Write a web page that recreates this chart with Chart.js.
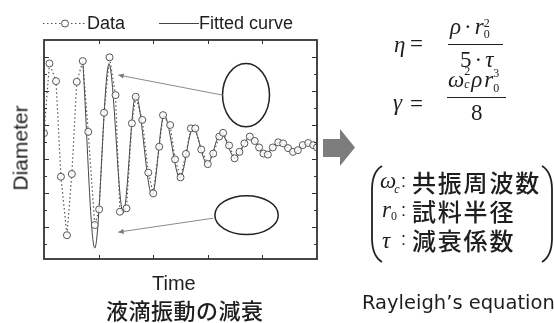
<!DOCTYPE html>
<html>
<head>
<meta charset="utf-8">
<script src="https://cdn.jsdelivr.net/npm/chart.js@4/dist/chart.umd.min.js"></script>
<style>
  html, body { margin: 0; padding: 0; background: #fff; }
  #wrap { position: relative; width: 554px; height: 323px; overflow: hidden; background: #fff; }
  #c { position: absolute; left: 0; top: 0; }
  .t { position: absolute; white-space: nowrap; color: #1e1e1e; line-height: 1; }
  .sans { font-family: "Liberation Sans", Arial, sans-serif; }
  .jp { font-family: "Noto Sans CJK JP", sans-serif; font-weight: 500; }
  .math { font-family: "Liberation Serif", "Times New Roman", serif; font-style: italic; font-size: 23px; }
  .up { font-style: normal; }
  .dot { font-style: normal; margin: 0 3px; }
  .ss { display: inline-block; position: relative; width: 6px; height: 1px; }
  .ss span { position: absolute; left: 0; font-size: 12px; line-height: 1; font-style: normal; }
  .ss span.it { font-style: italic; }
  .bar { position: absolute; height: 0; border-top: 1.2px solid #1e1e1e; }
</style>
</head>
<body>
<div id="wrap">
  <canvas id="c" width="554" height="323"></canvas>

  <!-- legend labels -->
  <div class="t sans" style="left:87px;top:14px;font-size:18px;">Data</div>
  <div class="t sans" style="left:199px;top:14px;font-size:18px;">Fitted curve</div>

  <!-- axis titles -->
  <div class="t sans" style="left:152px;top:273px;font-size:20px;">Time</div>
  <div class="t sans" style="left:20px;top:148px;font-size:21px;transform:translate(-50%,-50%) rotate(-90deg);">Diameter</div>

  <!-- caption -->
  <div class="t jp" style="left:106px;top:298px;font-size:22px;letter-spacing:0.5px;">液滴振動の減衰</div>

  <!-- viscosity -->
  <div class="t math" style="left:394px;top:33px;">η</div>
  <div class="t math up" style="left:410px;top:32px;">=</div>
  <div class="t math" style="left:450px;top:15px;">ρ<span class="dot">·</span>r<span class="ss"><span style="top:-16px">2</span><span style="top:-5px">0</span></span></div>
  <div class="bar" style="left:448px;top:44px;width:55px;"></div>
  <div class="t math" style="left:460px;top:48px;"><span class="up">5</span><span class="dot">·</span>τ</div>

  <!-- surface tension -->
  <div class="t math" style="left:393px;top:91px;">γ</div>
  <div class="t math up" style="left:410px;top:92px;">=</div>
  <div class="t math" style="left:448px;top:68px;">ω<span class="ss" style="width:7px"><span style="top:-21px">2</span><span class="it" style="top:-8px">c</span></span>ρ<span style="margin-left:2px">r</span><span class="ss" style="width:5px"><span style="top:-19px">3</span><span style="top:-4px">0</span></span></div>
  <div class="bar" style="left:447px;top:97px;width:59px;"></div>
  <div class="t math up" style="left:471px;top:101px;">8</div>

  <!-- symbol list -->
  <div class="t math" style="left:380px;top:169px;">ω<span class="ss" style="margin-left:-2px"><span class="it" style="top:-4px">c</span></span></div>
  <div class="t sans" style="left:401px;top:172px;font-size:18px;">:</div>
  <div class="t jp" style="left:412px;top:170px;font-size:24px;letter-spacing:1.8px;">共振周波数</div>

  <div class="t math" style="left:382px;top:198px;">r<span class="ss"><span style="top:-6px">0</span></span></div>
  <div class="t sans" style="left:401px;top:201px;font-size:18px;">:</div>
  <div class="t jp" style="left:412px;top:199px;font-size:24px;letter-spacing:1.8px;">試料半径</div>

  <div class="t math" style="left:382px;top:229px;">τ</div>
  <div class="t sans" style="left:401px;top:230px;font-size:18px;">:</div>
  <div class="t jp" style="left:412px;top:228px;font-size:24px;letter-spacing:1.8px;">減衰係数</div>

  <div class="t" style="left:362px;top:293px;font-size:19.5px;font-family:'DejaVu Sans',sans-serif;">Rayleigh’s equation</div>
</div>

<script>
// Measured droplet diameter over time (arbitrary units)
const timeData = [0.00,0.10,0.22,0.31,0.42,0.51,0.60,0.71,0.81,0.93,
                  1.01,1.10,1.20,1.31,1.39,1.51,1.61,1.68,1.80,1.91,
                  2.00,2.11,2.18,2.31,2.40,2.50,2.60,2.69,2.77,2.88,
                  3.00,3.10,3.21,3.28,3.39,3.49,3.58,3.67,3.77,3.86,
                  3.94,4.02,4.10,4.19,4.29,4.38,4.47,4.56,4.65,4.74,
                  4.84,4.93,5.00];
const diameterData = [3.76,5.81,5.29,2.48,0.76,2.56,5.27,5.88,3.80,1.06,
                      1.52,4.36,5.99,4.88,1.45,1.55,4.05,4.83,4.15,2.60,
                      1.99,3.36,4.29,4.00,2.99,2.46,3.15,3.90,3.90,3.28,
                      2.85,3.16,3.66,3.77,3.40,3.02,3.21,3.46,3.66,3.53,
                      3.34,3.16,3.13,3.34,3.49,3.46,3.32,3.21,3.26,3.41,
                      3.47,3.41,3.34];

// Damped-oscillation fit: turning points of the fitted curve
const fitTime     = [0.71,0.93,1.19,1.45,1.68,1.98,2.20,2.49,2.73,2.99,3.24,3.50,3.77,4.05,4.30,4.56,4.82,5.00];
const fitDiameter = [5.88,0.38,5.79,1.41,4.88,1.94,4.29,2.44,3.91,2.85,3.76,3.03,3.65,3.15,3.50,3.21,3.44,3.35];

// Axis tick positions (unlabelled, drawn inward)
const xTickValues = [1, 2, 3, 4];
const yTickValues = [0.5,1,1.5,2,2.5,3,3.5,4,4.5,5,5.5,6];

// Droplet outlines and pointer arrows, in data units
const droplets = [
  { cx: 3.70, cy: 4.88, rx: 0.43, ry: 0.93 },
  { cx: 3.71, cy: 1.35, rx: 0.58, ry: 0.57 }
];
const pointers = [
  { from: [3.27, 4.88], to: [1.36, 5.47] },
  { from: [3.10, 1.26], to: [1.36, 0.85] }
];

const toXY = (xs, ys) => xs.map((v, i) => ({ x: v, y: ys[i] }));

function arrowHead(ctx, x1, y1, x2, y2, size) {
  const ang = Math.atan2(y2 - y1, x2 - x1);
  ctx.beginPath();
  ctx.moveTo(x2, y2);
  ctx.lineTo(x2 - size * Math.cos(ang - 0.45), y2 - size * Math.sin(ang - 0.45));
  ctx.lineTo(x2 - size * Math.cos(ang + 0.45), y2 - size * Math.sin(ang + 0.45));
  ctx.closePath();
  ctx.fill();
}

const framePlugin = {
  id: 'frame',
  afterDatasetsDraw(chart) {
    const { ctx, chartArea: a, scales: { x, y } } = chart;
    ctx.save();
    ctx.strokeStyle = '#333';
    ctx.lineWidth = 1;
    ctx.beginPath();
    xTickValues.forEach(v => {
      const px = Math.round(x.getPixelForValue(v)) + 0.5;
      ctx.moveTo(px, a.bottom); ctx.lineTo(px, a.bottom - 4);
      ctx.moveTo(px, a.top); ctx.lineTo(px, a.top + 4);
    });
    yTickValues.forEach(v => {
      const py = Math.round(y.getPixelForValue(v)) + 0.5;
      const len = Number.isInteger(v) ? 5 : 3;
      ctx.moveTo(a.left, py); ctx.lineTo(a.left + len, py);
      ctx.moveTo(a.right, py); ctx.lineTo(a.right - len, py);
    });
    ctx.stroke();
    ctx.lineWidth = 1.8;
    ctx.strokeRect(a.left, a.top, a.right - a.left, a.bottom - a.top);

    // droplet outlines
    ctx.strokeStyle = '#222';
    ctx.lineWidth = 1.5;
    droplets.forEach(d => {
      const cx = x.getPixelForValue(d.cx), cy = y.getPixelForValue(d.cy);
      const rx = Math.abs(x.getPixelForValue(d.cx + d.rx) - cx);
      const ry = Math.abs(y.getPixelForValue(d.cy + d.ry) - cy);
      ctx.beginPath();
      ctx.ellipse(cx, cy, rx, ry, 0, 0, Math.PI * 2);
      ctx.stroke();
    });

    // pointer arrows
    ctx.strokeStyle = '#8a8a8a';
    ctx.fillStyle = '#7a7a7a';
    ctx.lineWidth = 1;
    pointers.forEach(p => {
      const x1 = x.getPixelForValue(p.from[0]), y1 = y.getPixelForValue(p.from[1]);
      const x2 = x.getPixelForValue(p.to[0]), y2 = y.getPixelForValue(p.to[1]);
      ctx.beginPath(); ctx.moveTo(x1, y1); ctx.lineTo(x2, y2); ctx.stroke();
      arrowHead(ctx, x1, y1, x2, y2, 6);
    });
    ctx.restore();
  },
  afterDraw(chart) {
    const ctx = chart.ctx;
    ctx.save();
    // legend samples
    ctx.strokeStyle = '#555';
    ctx.lineWidth = 1.2;
    ctx.setLineDash([1.5, 2.5]);
    ctx.beginPath(); ctx.moveTo(43, 23.5); ctx.lineTo(85, 23.5); ctx.stroke();
    ctx.setLineDash([]);
    ctx.fillStyle = '#fff';
    ctx.lineWidth = 1;
    ctx.beginPath(); ctx.arc(65, 23.5, 3.5, 0, Math.PI * 2); ctx.fill(); ctx.stroke();
    ctx.strokeStyle = '#444';
    ctx.beginPath(); ctx.moveTo(159, 23.5); ctx.lineTo(199, 23.5); ctx.stroke();

    // block arrow toward the equations
    ctx.fillStyle = '#7d7d7d';
    ctx.beginPath();
    ctx.moveTo(323, 139); ctx.lineTo(340, 139); ctx.lineTo(340, 129);
    ctx.lineTo(355, 147.5); ctx.lineTo(340, 166); ctx.lineTo(340, 157);
    ctx.lineTo(323, 157); ctx.closePath(); ctx.fill();

    // large parentheses around the symbol list
    ctx.strokeStyle = '#222';
    ctx.lineWidth = 1.8;
    ctx.beginPath();
    ctx.moveTo(382, 166); ctx.quadraticCurveTo(372, 172, 372, 190);
    ctx.lineTo(372, 238); ctx.quadraticCurveTo(372, 256, 382, 262);
    ctx.stroke();
    ctx.beginPath();
    ctx.moveTo(542, 166); ctx.quadraticCurveTo(552, 172, 552, 190);
    ctx.lineTo(552, 238); ctx.quadraticCurveTo(552, 256, 542, 262);
    ctx.stroke();
    ctx.restore();
  }
};

new Chart(document.getElementById('c'), {
  type: 'line',
  data: {
    datasets: [
      {
        label: 'Data',
        data: toXY(timeData, diameterData),
        borderColor: '#555',
        borderWidth: 1.2,
        borderDash: [1.5, 2.5],
        pointRadius: 3.5,
        pointBorderWidth: 1,
        pointBorderColor: '#555',
        pointBackgroundColor: 'rgba(255,255,255,0.85)',
        tension: 0,
        order: 0
      },
      {
        label: 'Fitted curve',
        data: toXY(fitTime, fitDiameter),
        borderColor: '#444',
        borderWidth: 1,
        pointRadius: 0,
        cubicInterpolationMode: 'monotone',
        order: 1
      }
    ]
  },
  options: {
    responsive: false,
    animation: false,
    layout: { padding: { left: 44, top: 40, right: 237, bottom: 64 } },
    plugins: { legend: { display: false }, tooltip: { enabled: false } },
    scales: {
      x: { type: 'linear', min: 0, max: 5, display: false },
      y: { type: 'linear', min: 0.06, max: 6.5, display: false }
    }
  },
  plugins: [framePlugin]
});
</script>
</body>
</html>
